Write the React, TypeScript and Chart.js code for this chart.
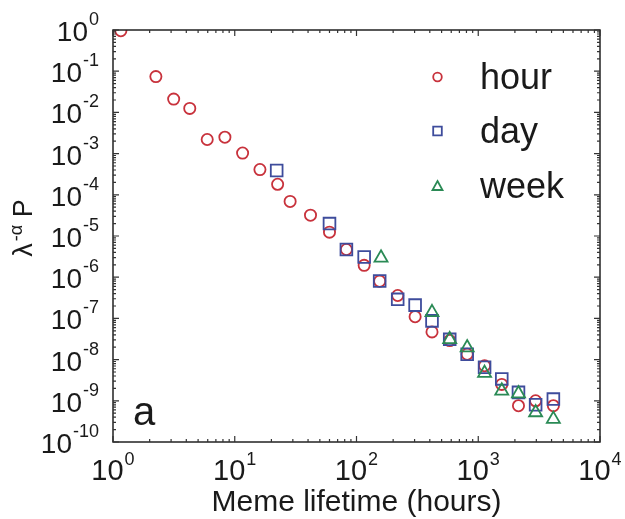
import React, { useEffect, useRef } from "react";
import { Chart, registerables } from "chart.js";

Chart.register(...registerables);

// ---- data ----
const seriesNames = ["hour", "day", "week"];

const hourX = [1.16, 2.25, 3.15, 4.27, 5.94, 8.3, 11.6, 16.1, 22.5, 28.5, 41.9, 60, 82.6, 115.6, 155, 218, 303, 417, 583, 811, 1127, 1560, 2140, 2960, 4140];
const hourY = [0.96, 0.074, 0.021, 0.0125, 0.0022, 0.0025, 0.00103, 4.1e-4, 1.8e-4, 6.9e-5, 3.2e-5, 1.24e-5, 4.7e-6, 1.94e-6, 8.0e-7, 3.6e-7, 1.1e-7, 4.7e-8, 2.9e-8, 1.35e-8, 7.1e-9, 2.5e-9, 7.6e-10, 1.0e-9, 7.6e-10];

const dayX = [22.1, 60, 82.6, 115.6, 155, 218, 303, 417, 583, 811, 1127, 1560, 2140, 2960, 4140];
const dayY = [3.9e-4, 2.0e-5, 4.7e-6, 3.1e-6, 8.1e-7, 2.9e-7, 2.1e-7, 8.7e-8, 3.1e-8, 1.35e-8, 6.5e-9, 3.4e-9, 1.6e-9, 8.0e-10, 1.1e-9];

const weekX = [159, 417, 583, 811, 1127, 1560, 2140, 2960, 4140];
const weekY = [2.96e-6, 1.4e-7, 3.1e-8, 1.96e-8, 4.7e-9, 1.75e-9, 1.5e-9, 5.2e-10, 3.6e-10];

const xTickExps = [0, 1, 2, 3, 4];
const yTickExps = [0, -1, -2, -3, -4, -5, -6, -7, -8, -9, -10];

const xTitle = "Meme lifetime (hours)";
const yTitleMain = "\u03bb";
const yTitleSup = "-\u03b1";
const yTitleEnd = " P";
const panelLabel = "a";

const colors = ["#c8323c", "#3e4c9c", "#2a8a55"];
const FONT = '"Liberation Sans", Arial, Helvetica, sans-serif';

const toPts = (xs: number[], ys: number[]) => xs.map((x, i) => ({ x, y: ys[i] }));

const decorPlugin = {
  id: "decor",
  afterDatasetsDraw(chart: any) {
    const ctx = chart.ctx as CanvasRenderingContext2D;
    const { left, right, top, bottom } = chart.chartArea;
    const xs = chart.scales.x;
    const ys = chart.scales.y;
    ctx.save();
    // frame
    ctx.strokeStyle = "#222";
    ctx.lineWidth = 1.5;
    ctx.strokeRect(left, top, right - left, bottom - top);

    // ticks
    ctx.lineWidth = 1.2;
    ctx.strokeStyle = "#333";
    const xMinE = Math.min(...xTickExps), xMaxE = Math.max(...xTickExps);
    for (let e = xMinE; e <= xMaxE; e++) {
      for (let k = 1; k <= 9; k++) {
        if (e === xMaxE && k > 1) break;
        const v = k * Math.pow(10, e);
        const px = xs.getPixelForValue(v);
        const len = k === 1 ? 6 : 3;
        ctx.beginPath();
        ctx.moveTo(px, bottom);
        ctx.lineTo(px, bottom - len);
        ctx.moveTo(px, top);
        ctx.lineTo(px, top + len);
        ctx.stroke();
      }
    }
    const yMinE = Math.min(...yTickExps), yMaxE = Math.max(...yTickExps);
    for (let e = yMinE; e <= yMaxE; e++) {
      for (let k = 1; k <= 9; k++) {
        if (e === yMaxE && k > 1) break;
        const v = k * Math.pow(10, e);
        const py = ys.getPixelForValue(v);
        const len = k === 1 ? 6 : 3;
        ctx.beginPath();
        ctx.moveTo(left, py);
        ctx.lineTo(left + len, py);
        ctx.moveTo(right, py);
        ctx.lineTo(right - len, py);
        ctx.stroke();
      }
    }

    // tick labels
    ctx.fillStyle = "#1a1a1a";
    ctx.textBaseline = "alphabetic";
    const drawPow = (exp: number, x: number, baseY: number, align: "center" | "right", baseSize: number, supSize: number, rise: number) => {
      const base = "10";
      const sup = String(exp);
      ctx.font = `${baseSize}px ${FONT}`;
      const bw = ctx.measureText(base).width;
      ctx.font = `${supSize}px ${FONT}`;
      const sw = ctx.measureText(sup).width;
      const total = bw + 1 + sw;
      const x0 = align === "center" ? x - total / 2 : x - total;
      ctx.textAlign = "left";
      ctx.font = `${baseSize}px ${FONT}`;
      ctx.fillText(base, x0, baseY);
      ctx.font = `${supSize}px ${FONT}`;
      ctx.fillText(sup, x0 + bw + 1, baseY - rise);
    };
    xTickExps.forEach((e) => {
      const px = xs.getPixelForValue(Math.pow(10, e));
      drawPow(e, px, bottom + 38, "center", 29, 18, 15);
    });
    yTickExps.forEach((e) => {
      const py = ys.getPixelForValue(Math.pow(10, e));
      drawPow(e, left - 14, py + 11, "right", 28, 18, 16);
    });

    // x title
    ctx.font = `30px ${FONT}`;
    ctx.textAlign = "center";
    ctx.fillText(xTitle, (left + right) / 2, bottom + 69);

    // y title (rotated)
    ctx.save();
    ctx.translate(32, 228);
    ctx.rotate(-Math.PI / 2);
    ctx.textAlign = "left";
    ctx.font = `27px ${FONT}`;
    const w1 = ctx.measureText(yTitleMain).width;
    const w3 = ctx.measureText(yTitleEnd).width;
    ctx.font = `18px ${FONT}`;
    const w2 = ctx.measureText(yTitleSup).width;
    const tot = w1 + 2 + w2 + w3;
    let cx = -tot / 2;
    ctx.font = `27px ${FONT}`;
    ctx.fillText(yTitleMain, cx, 0);
    cx += w1 + 2;
    ctx.font = `18px ${FONT}`;
    ctx.fillText(yTitleSup, cx, -10);
    cx += w2;
    ctx.font = `27px ${FONT}`;
    ctx.fillText(yTitleEnd, cx, 0);
    ctx.restore();

    // panel label
    ctx.font = `40px ${FONT}`;
    ctx.textAlign = "left";
    ctx.fillText(panelLabel, left + 20, bottom - 17);

    // legend
    const lx = 437.5;
    const lys = [77, 131, 186];
    seriesNames.forEach((name, i) => {
      const y = lys[i];
      ctx.strokeStyle = colors[i];
      ctx.lineWidth = 1.8;
      ctx.beginPath();
      if (i === 0) {
        ctx.arc(lx, y, 4.3, 0, Math.PI * 2);
      } else if (i === 1) {
        ctx.rect(lx - 4.3, y - 4.3, 8.6, 8.6);
      } else {
        ctx.moveTo(lx, y - 5);
        ctx.lineTo(lx + 5, y + 4);
        ctx.lineTo(lx - 5, y + 4);
        ctx.closePath();
      }
      ctx.stroke();
      ctx.fillStyle = "#1a1a1a";
      ctx.font = `36px ${FONT}`;
      ctx.fillText(name, 480, y + 12);
    });
    ctx.restore();
  },
};

export default function App() {
  const ref = useRef<HTMLCanvasElement | null>(null);
  useEffect(() => {
    if (!ref.current) return;
    const chart = new Chart(ref.current, {
      type: "scatter",
      data: {
        datasets: [
          {
            label: seriesNames[0],
            data: toPts(hourX, hourY),
            pointStyle: "circle",
            pointRadius: 5.6,
            borderColor: colors[0],
            backgroundColor: "rgba(0,0,0,0)",
            borderWidth: 1.8,
            order: 3,
            clip: 0,
          },
          {
            label: seriesNames[1],
            data: toPts(dayX, dayY),
            pointStyle: "rect",
            pointRadius: 8.3,
            borderColor: colors[1],
            backgroundColor: "rgba(0,0,0,0)",
            borderWidth: 1.8,
            order: 2,
            clip: 0,
          },
          {
            label: seriesNames[2],
            data: toPts(weekX, weekY),
            pointStyle: "triangle",
            pointRadius: 7.5,
            borderColor: colors[2],
            backgroundColor: "rgba(0,0,0,0)",
            borderWidth: 1.8,
            order: 1,
            clip: 0,
          },
        ],
      },
      options: {
        animation: false,
        responsive: false,
        layout: { padding: { left: 113, top: 30, right: 25, bottom: 77 } },
        plugins: { legend: { display: false }, tooltip: { enabled: false } },
        scales: {
          x: { type: "logarithmic", min: 1, max: 10000, display: false },
          y: { type: "logarithmic", min: 1e-10, max: 1, display: false },
        },
      },
      plugins: [decorPlugin],
    });
    return () => chart.destroy();
  }, []);
  return (
    <div style={{ position: "fixed", left: 0, top: 0, width: 625, height: 519, background: "#fff" }}>
      <canvas ref={ref} width={625} height={519} style={{ display: "block" }} />
    </div>
  );
}
